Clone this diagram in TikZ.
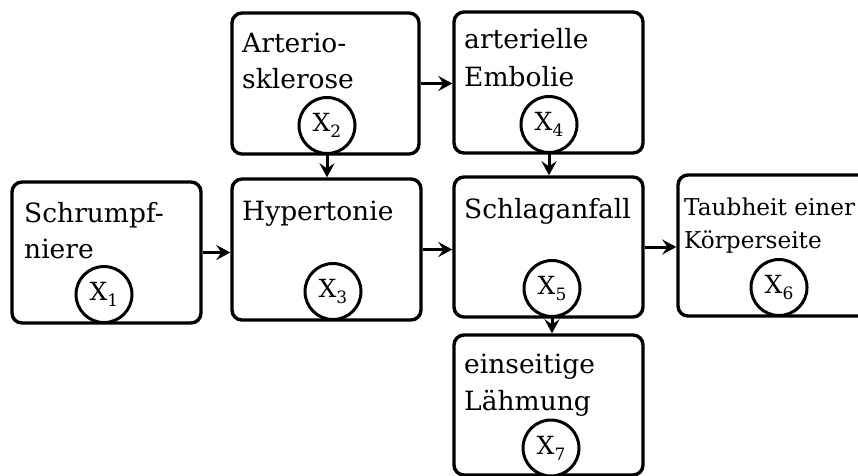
\documentclass[tikz,border=0pt]{standalone}
\usepackage{fontspec}
\setmainfont{DejaVu Serif}
\usetikzlibrary{arrows.meta}
\tikzset{
  boxnode/.style={draw, line width=3.4pt, rounded corners=10pt, inner sep=0pt, minimum width=189pt, minimum height=141pt},
  varnode/.style={draw, circle, line width=3pt, fill=white, inner sep=0pt, minimum size=56pt, font=\fontsize{25}{25}\selectfont},
  lbl/.style={anchor=base west, inner sep=0pt, font=\fontsize{26.5}{36}\selectfont},
  smalllbl/.style={anchor=base west, inner sep=0pt, font=\fontsize{23.2}{33}\selectfont},
  arr/.style={line width=3pt, -{Stealth[length=14pt,width=15pt,inset=5pt]}}
}
\newcommand{\xv}[1]{X\raisebox{-6pt}{\fontsize{17}{17}\selectfont #1}}
\begin{document}
\begin{tikzpicture}[x=1pt,y=-1pt]
\clip (0,0) rectangle (858,475);
\fill[white] (0,0) rectangle (858,475);
% boxes
\node[boxnode] (b1) at (106.5,252.5) {};
\node[boxnode, minimum width=187pt] (b2) at (325.5,83.5) {};
\node[boxnode] (b3) at (326.5,249.5) {};
\node[boxnode] (b4) at (548.5,82.5) {};
\node[boxnode, minimum height=140pt] (b5) at (548.5,247) {};
\node[boxnode, minimum width=190pt] (b6) at (773,245.5) {};
\node[boxnode, minimum height=140pt] (b7) at (548.5,405) {};
% labels
\node[lbl] (t1a) at (24,222) {Schrumpf-};
\node[lbl] (t1b) at (24,258) {niere};
\node[lbl] (t2a) at (242,52) {Arterio-};
\node[lbl] (t2b) at (242,88) {sklerose};
\node[lbl] (t3) at (242,220) {Hypertonie};
\node[lbl] (t4a) at (464,48) {arterielle};
\node[lbl] (t4b) at (464,86) {Embolie};
\node[lbl] (t5) at (464,218) {Schlaganfall};
\node[smalllbl] (t6a) at (684,215) {Taubheit einer};
\node[smalllbl] (t6b) at (684,248) {Körperseite};
\node[lbl] (t7a) at (464,373) {einseitige};
\node[lbl] (t7b) at (464,410) {Lähmung};
% variables
\node[varnode] (x1) at (104,294.5) {\xv{1}};
\node[varnode] (x2) at (327,125.5) {\xv{2}};
\node[varnode] (x3) at (333,291.5) {\xv{3}};
\node[varnode] (x4) at (549,124.5) {\xv{4}};
\node[varnode] (x5) at (552,288.5) {\xv{5}};
\node[varnode] (x6) at (779,287.5) {\xv{6}};
\node[varnode] (x7) at (551,448) {\xv{7}};
% arrows
\draw[arr] (x2.south) -- (x2.south |- b3.north);
\draw[arr] (b2.east) -- (b2.east -| b4.west);
\draw[arr] (x4.south) -- (x4.south |- b5.north);
\draw[arr] (b1.east) -- (b1.east -| b3.west);
\draw[arr] (b3.east) -- (b3.east -| b5.west);
\draw[arr] (b5.east) -- (b5.east -| b6.west);
\draw[arr] (x5.south) -- (x5.south |- b7.north);
\end{tikzpicture}
\end{document}
